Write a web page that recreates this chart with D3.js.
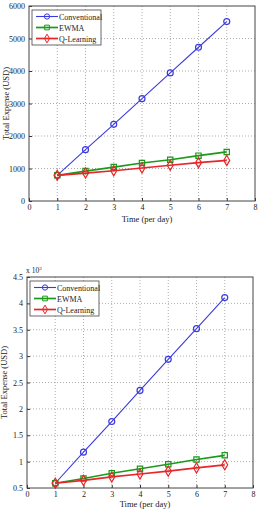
<!DOCTYPE html>
<html>
<head>
<meta charset="utf-8">
<script src="https://cdn.jsdelivr.net/npm/d3@7"></script>
<style>
  body { margin: 0; background: #fff; }
  svg { display: block; }
  .tick text { font-family: "Liberation Serif", serif; }
</style>
</head>
<body>
<div id="chart"></div>
<script>
// Days on the x axis
const days = [1, 2, 3, 4, 5, 6, 7];

// Top plot values (USD)
const topConventional = [790, 1580, 2360, 3150, 3940, 4730, 5520];
const topEWMA = [790, 920, 1045, 1170, 1270, 1395, 1510];
const topQLearning = [790, 860, 930, 1015, 1100, 1180, 1250];
const topYTicks = [0, 1000, 2000, 3000, 4000, 5000, 6000];

// Bottom plot values (x 10^3 USD)
const botConventional = [0.59, 1.18, 1.76, 2.35, 2.94, 3.52, 4.11];
const botEWMA = [0.59, 0.68, 0.78, 0.865, 0.95, 1.04, 1.12];
const botQLearning = [0.59, 0.645, 0.71, 0.765, 0.82, 0.88, 0.94];
const botYTicks = [0.5, 1, 1.5, 2, 2.5, 3, 3.5, 4, 4.5];

const xTicks = [0, 1, 2, 3, 4, 5, 6, 7, 8];
const seriesNames = ["Conventional", "EWMA", "Q-Learning"];
const seriesColors = ["#3a3ae0", "#1a9a1a", "#e8262a"];
const seriesWidths = [1.1, 1.7, 1.7];
const markerTypes = [d3.symbolCircle, d3.symbolSquare, d3.symbolDiamond];

const W = 258, H = 509;
const fontFam = "Liberation Serif, serif";

const svg = d3.select("#chart").append("svg")
    .attr("width", W)
    .attr("height", H);

function drawPlot(box, yDomain, yTicks, data, fmt, titleGap) {
    const x = d3.scaleLinear().domain([0, 8]).range([box.left, box.right]);
    const y = d3.scaleLinear().domain(yDomain).range([box.bottom, box.top]);
    const g = svg.append("g");

    // grid (dotted)
    g.append("g").selectAll("line")
        .data(xTicks.slice(1, -1))
        .join("line")
        .attr("x1", d => x(d)).attr("x2", d => x(d))
        .attr("y1", box.top).attr("y2", box.bottom)
        .attr("stroke", "#8a8a8a")
        .attr("stroke-width", 0.7)
        .attr("stroke-dasharray", "1,2");
    g.append("g").selectAll("line")
        .data(yTicks.slice(1, -1))
        .join("line")
        .attr("y1", d => y(d)).attr("y2", d => y(d))
        .attr("x1", box.left).attr("x2", box.right)
        .attr("stroke", "#8a8a8a")
        .attr("stroke-width", 0.7)
        .attr("stroke-dasharray", "1,2");

    // axes, ticks inside like matlab
    const xAxis = g.append("g")
        .attr("transform", `translate(0,${box.bottom})`)
        .call(d3.axisBottom(x).tickValues(xTicks).tickSizeInner(-3).tickSizeOuter(0).tickPadding(3));
    const yAxis = g.append("g")
        .attr("transform", `translate(${box.left},0)`)
        .call(d3.axisLeft(y).tickValues(yTicks).tickFormat(fmt).tickSizeInner(-3).tickSizeOuter(0).tickPadding(4));
    [xAxis, yAxis].forEach(a => {
        a.select(".domain").remove();
        a.selectAll(".tick line").attr("stroke", "#333");
        a.selectAll(".tick text")
            .attr("font-family", fontFam)
            .attr("font-size", "8px")
            .attr("fill", "#222");
    });

    // frame
    g.append("rect")
        .attr("x", box.left).attr("y", box.top)
        .attr("width", box.right - box.left)
        .attr("height", box.bottom - box.top)
        .attr("fill", "none")
        .attr("stroke", "#444")
        .attr("stroke-width", 1);

    // lines and markers
    const line = d3.line().x((d, i) => x(days[i])).y(d => y(d));
    data.forEach((vals, k) => {
        g.append("path")
            .datum(vals)
            .attr("d", line)
            .attr("fill", "none")
            .attr("stroke", seriesColors[k])
            .attr("stroke-width", seriesWidths[k]);
        g.append("g").selectAll("path")
            .data(vals)
            .join("path")
            .attr("transform", (d, i) => `translate(${x(days[i])},${y(d)})`)
            .attr("d", d3.symbol().type(markerTypes[k]).size(k === 2 ? 30 : 28))
            .attr("fill", "none")
            .attr("stroke", seriesColors[k])
            .attr("stroke-width", 1.2);
    });

    // axis titles
    g.append("text")
        .attr("x", (box.left + box.right) / 2 + 5)
        .attr("y", box.bottom + titleGap)
        .attr("text-anchor", "middle")
        .attr("font-family", fontFam)
        .attr("font-size", "8.5px")
        .attr("fill", "#222")
        .text("Time (per day)");
    g.append("text")
        .attr("transform", `translate(${box.left - 20},${(box.top + box.bottom) / 2}) rotate(-90)`)
        .attr("text-anchor", "middle")
        .attr("font-family", fontFam)
        .attr("font-size", "8.5px")
        .attr("fill", "#222")
        .text("Total Expense (USD)");

    // legend
    const lg = g.append("g").attr("transform", `translate(${box.left + 3},${box.top + 4})`);
    lg.append("rect")
        .attr("width", 69).attr("height", 35)
        .attr("fill", "#fff")
        .attr("stroke", "#444")
        .attr("stroke-width", 0.8);
    seriesNames.forEach((name, k) => {
        const yy = 6.5 + k * 11;
        lg.append("line")
            .attr("x1", 4).attr("x2", 26)
            .attr("y1", yy).attr("y2", yy)
            .attr("stroke", seriesColors[k])
            .attr("stroke-width", seriesWidths[k]);
        lg.append("path")
            .attr("transform", `translate(15,${yy})`)
            .attr("d", d3.symbol().type(markerTypes[k]).size(22))
            .attr("fill", "none")
            .attr("stroke", seriesColors[k]);
        lg.append("text")
            .attr("x", 27).attr("y", yy + 3)
            .attr("font-family", fontFam)
            .attr("font-size", "8px")
            .attr("fill", "#222")
            .text(name);
    });
    return g;
}

// top plot
drawPlot({ left: 29, right: 255, top: 6, bottom: 201 }, [0, 6000], topYTicks,
    [topConventional, topEWMA, topQLearning], d3.format("d"), 21);

// bottom plot
const gb = drawPlot({ left: 27, right: 253, top: 277, bottom: 488 }, [0.5, 4.5], botYTicks,
    [botConventional, botEWMA, botQLearning], d => String(d), 19);

// exponent label
const ex = gb.append("text")
    .attr("x", 26).attr("y", 273)
    .attr("font-family", fontFam)
    .attr("font-size", "7.5px")
    .attr("fill", "#222");
ex.append("tspan").text("x 10");
ex.append("tspan").attr("dy", -3).attr("font-size", "5px").text("3");
</script>
</body>
</html>
